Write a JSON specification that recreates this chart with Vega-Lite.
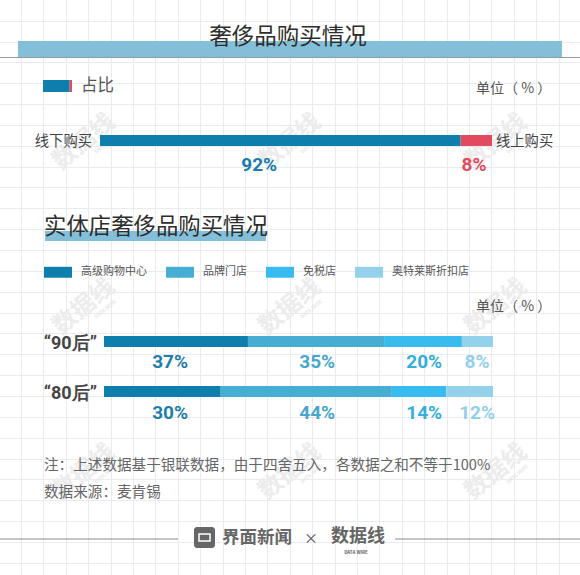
{"$schema":"https://vega.github.io/schema/vega-lite/v6.json","width":580,"height":575,"padding":0,"autosize":{"type":"none"},"background":"#ffffff",
"title":{"text":"奢侈品购买情况","anchor":"middle","offset":-48,"dx":-2,"font":"Noto Sans CJK SC","fontSize":22.5,"fontWeight":"normal","color":"#2d2d2d"},
"config":{"view":{"stroke":null},"font":"Noto Sans CJK SC","text":{"font":"Noto Sans CJK SC"}},
"data":{"values":[{"note":"annotation"}]},
"datasets":{
"channel":[{"group":"全部","channel":"线下购买","rank":1,"share":0.92},{"group":"全部","channel":"线上购买","rank":2,"share":0.08}],
"store":[
{"group":"“90后”","category":"高级购物中心","rank":1,"share":0.37},{"group":"“90后”","category":"品牌门店","rank":2,"share":0.35},{"group":"“90后”","category":"免税店","rank":3,"share":0.20},{"group":"“90后”","category":"奥特莱斯折扣店","rank":4,"share":0.08},
{"group":"“80后”","category":"高级购物中心","rank":1,"share":0.30},{"group":"“80后”","category":"品牌门店","rank":2,"share":0.44},{"group":"“80后”","category":"免税店","rank":3,"share":0.14},{"group":"“80后”","category":"奥特莱斯折扣店","rank":4,"share":0.12}],
"grid":[{"i":0}],
"wm":[{"c":"a","r":"a"},{"c":"b","r":"a"},{"c":"c","r":"a"},{"c":"a","r":"b"},{"c":"b","r":"b"},{"c":"c","r":"b"},{"c":"a","r":"c"},{"c":"b","r":"c"},{"c":"c","r":"c"}]},
"resolve":{"scale":{"x":"independent","y":"independent"},"axis":{"x":"independent","y":"independent"}},
"layer":[
{"data":{"name":"grid"},"mark":{"type":"point","opacity":0},"encoding":{
"x":{"field":"i","type":"quantitative","scale":{"domain":[-1,26],"range":[-1.4,603.4],"nice":false,"zero":false},"axis":{"grid":true,"gridColor":"#e9ebee","gridWidth":1,"labels":false,"ticks":false,"domain":false,"title":null,"values":[0,1,2,3,4,5,6,7,8,9,10,11,12,13,14,15,16,17,18,19,20,21,22,23,24,25]}},
"y":{"field":"i","type":"quantitative","scale":{"domain":[-1,27],"range":[-0.15,583.6],"nice":false,"zero":false},"axis":{"grid":true,"gridColor":"#e9ebee","gridWidth":1,"labels":false,"ticks":false,"domain":false,"title":null,"values":[0,1,2,3,4,5,6,7,8,9,10,11,12,13,14,15,16,17,18,19,20,21,22,23,24,25,26,27]}}}},
{"data":{"name":"wm"},"mark":{"type":"text","text":"数据线","fontSize":24,"fontWeight":"bold","angle":-40,"color":"#ececec"},"encoding":{
"x":{"field":"c","type":"nominal","scale":{"type":"point","padding":0,"domain":["a","b","c"],"range":[84,496]},"axis":null},
"y":{"field":"r","type":"nominal","scale":{"type":"point","padding":0,"domain":["a","b","c"],"range":[142,472]},"axis":null}}},
{"data":{"name":"wm"},"mark":{"type":"text","text":"DATA WIRE","fontSize":5,"fontWeight":"bold","angle":-40,"color":"#e8e8e8","dx":15,"dy":15},"encoding":{
"x":{"field":"c","type":"nominal","scale":{"type":"point","padding":0,"domain":["a","b","c"],"range":[84,496]},"axis":null},
"y":{"field":"r","type":"nominal","scale":{"type":"point","padding":0,"domain":["a","b","c"],"range":[142,472]},"axis":null}}},
{"mark":{"type":"rect","color":"#83bfd8"},"encoding":{"x":{"value":18},"x2":{"value":562},"y":{"value":41},"y2":{"value":57}}},
{"mark":{"type":"rule","color":"#9a9a9a","strokeWidth":1},"encoding":{"x":{"value":0},"x2":{"value":580},"y":{"value":57.5}}},
{"mark":{"type":"rect","color":"#83bfd8"},"encoding":{"x":{"value":45},"x2":{"value":266},"y":{"value":231},"y2":{"value":241}}},
{"mark":{"type":"rule","color":"#8a8a8a","strokeWidth":1},"encoding":{"x":{"value":0},"x2":{"value":178},"y":{"value":539}}},
{"mark":{"type":"rule","color":"#8a8a8a","strokeWidth":1},"encoding":{"x":{"value":395},"x2":{"value":580},"y":{"value":539}}},
{"data":{"name":"channel"},"mark":{"type":"bar","height":12},"encoding":{
"x":{"field":"share","type":"quantitative","stack":"zero","scale":{"domain":[0,1],"range":[43,72],"nice":false},"axis":null},
"y":{"field":"group","type":"nominal","scale":{"type":"point","padding":0,"domain":["全部"],"range":[86,86]},"axis":null},
"order":{"field":"rank"},
"fill":{"field":"channel","type":"nominal","scale":{"domain":["线下购买","线上购买"],"range":["#0e7fad","#e24a5f"]},"legend":null}}},
{"data":{"name":"channel"},"mark":{"type":"bar","height":11},"encoding":{
"x":{"field":"share","type":"quantitative","stack":"zero","scale":{"domain":[0,1],"range":[100,492],"nice":false},"axis":null},
"y":{"field":"group","type":"nominal","scale":{"type":"point","padding":0,"domain":["全部"],"range":[140.5,140.5]},"axis":null},
"order":{"field":"rank"},
"fill":{"field":"channel","type":"nominal","scale":{"domain":["线下购买","线上购买"],"range":["#0e7fad","#e24a5f"]},"legend":null}}},
{"data":{"name":"channel"},"transform":[{"filter":"datum.rank==1"}],"mark":{"type":"text","align":"right","dx":-8,"fontSize":14.3,"color":"#444444"},"encoding":{
"x":{"datum":0,"type":"quantitative","scale":{"domain":[0,1],"range":[100,492],"nice":false},"axis":null},
"y":{"field":"group","type":"nominal","scale":{"type":"point","padding":0,"domain":["全部"],"range":[141.5,141.5]},"axis":null},
"text":{"field":"channel"}}},
{"data":{"name":"channel"},"transform":[{"filter":"datum.rank==2"}],"mark":{"type":"text","align":"left","dx":4,"fontSize":14.3,"color":"#444444"},"encoding":{
"x":{"datum":1,"type":"quantitative","scale":{"domain":[0,1],"range":[100,492],"nice":false},"axis":null},
"y":{"field":"group","type":"nominal","scale":{"type":"point","padding":0,"domain":["全部"],"range":[141.5,141.5]},"axis":null},
"text":{"field":"channel"}}},
{"data":{"name":"channel"},"transform":[{"filter":"datum.rank==1"}],"mark":{"type":"text","font":"Roboto","fontWeight":"bold","fontSize":19,"color":"#1a7dab"},"encoding":{
"x":{"datum":0.406,"type":"quantitative","scale":{"domain":[0,1],"range":[100,492],"nice":false},"axis":null},
"y":{"field":"group","type":"nominal","scale":{"type":"point","padding":0,"domain":["全部"],"range":[165,165]},"axis":null},
"text":{"field":"share","type":"quantitative","format":".0%"}}},
{"data":{"name":"channel"},"transform":[{"filter":"datum.rank==2"}],"mark":{"type":"text","font":"Roboto","fontWeight":"bold","fontSize":19,"color":"#e24a5f"},"encoding":{
"x":{"datum":0.954,"type":"quantitative","scale":{"domain":[0,1],"range":[100,492],"nice":false},"axis":null},
"y":{"field":"group","type":"nominal","scale":{"type":"point","padding":0,"domain":["全部"],"range":[165,165]},"axis":null},
"text":{"field":"share","type":"quantitative","format":".0%"}}},
{"data":{"name":"store"},"mark":{"type":"bar","height":11},"encoding":{
"x":{"field":"share","type":"quantitative","stack":"zero","scale":{"domain":[0,1],"range":[104,493],"nice":false},"axis":null},
"y":{"field":"group","type":"nominal","scale":{"type":"point","padding":0,"domain":["“90后”","“80后”"],"range":[341.5,391.5]},"axis":null},
"order":{"field":"rank"},
"color":{"field":"category","type":"nominal","scale":{"domain":["高级购物中心","品牌门店","免税店","奥特莱斯折扣店"],"range":["#0e7fad","#47aed3","#38bbee","#94d2ec"]},
"legend":{"orient":"none","legendX":44,"legendY":258,"direction":"horizontal","columns":4,"title":null,"symbolType":"M-1,-0.39H1V0.39H-1Z","symbolSize":784,"symbolStrokeWidth":0,"columnPadding":19,"labelOffset":9,"labelFontSize":11,"labelFont":"Noto Sans CJK SC","labelColor":"#555555"}}}},
{"data":{"name":"store"},"transform":[{"filter":"datum.rank==1"}],"mark":{"type":"text","align":"right","dx":-7,"font":"Roboto","fontWeight":"bold","fontSize":18,"color":"#444444"},"encoding":{
"x":{"datum":0,"type":"quantitative","scale":{"domain":[0,1],"range":[104,493],"nice":false},"axis":null},
"y":{"field":"group","type":"nominal","scale":{"type":"point","padding":0,"domain":["“90后”","“80后”"],"range":[344,393.5]},"axis":null},
"text":{"field":"group"}}},
{"data":{"name":"store"},"transform":[{"filter":"datum.rank==1"}],"mark":{"type":"text","font":"Roboto","fontWeight":"bold","fontSize":19},"encoding":{
"x":{"datum":0.17,"type":"quantitative","scale":{"domain":[0,1],"range":[104,493],"nice":false},"axis":null},
"y":{"field":"group","type":"nominal","scale":{"type":"point","padding":0,"domain":["“90后”","“80后”"],"range":[362,413]},"axis":null},
"color":{"value":"#1f7dab"},"text":{"field":"share","type":"quantitative","format":".0%"}}},
{"data":{"name":"store"},"transform":[{"filter":"datum.rank==2"}],"mark":{"type":"text","font":"Roboto","fontWeight":"bold","fontSize":19},"encoding":{
"x":{"datum":0.548,"type":"quantitative","scale":{"domain":[0,1],"range":[104,493],"nice":false},"axis":null},
"y":{"field":"group","type":"nominal","scale":{"type":"point","padding":0,"domain":["“90后”","“80后”"],"range":[362,413]},"axis":null},
"color":{"value":"#47a6cc"},"text":{"field":"share","type":"quantitative","format":".0%"}}},
{"data":{"name":"store"},"transform":[{"filter":"datum.rank==3"}],"mark":{"type":"text","font":"Roboto","fontWeight":"bold","fontSize":19},"encoding":{
"x":{"datum":0.823,"type":"quantitative","scale":{"domain":[0,1],"range":[104,493],"nice":false},"axis":null},
"y":{"field":"group","type":"nominal","scale":{"type":"point","padding":0,"domain":["“90后”","“80后”"],"range":[362,413]},"axis":null},
"color":{"value":"#33aedd"},"text":{"field":"share","type":"quantitative","format":".0%"}}},
{"data":{"name":"store"},"transform":[{"filter":"datum.rank==4"}],"mark":{"type":"text","font":"Roboto","fontWeight":"bold","fontSize":19},"encoding":{
"x":{"datum":0.959,"type":"quantitative","scale":{"domain":[0,1],"range":[104,493],"nice":false},"axis":null},
"y":{"field":"group","type":"nominal","scale":{"type":"point","padding":0,"domain":["“90后”","“80后”"],"range":[362,413]},"axis":null},
"color":{"value":"#94cfe8"},"text":{"field":"share","type":"quantitative","format":".0%"}}},
{"mark":{"type":"text","text":"占比","fontSize":16.5,"align":"left","color":"#555555"},"encoding":{"x":{"value":81},"y":{"value":86}}},
{"mark":{"type":"text","text":"单位（ % ）","fontSize":14,"align":"left","color":"#555555"},"encoding":{"x":{"value":476},"y":{"value":89}}},
{"mark":{"type":"text","text":"实体店奢侈品购买情况","fontSize":22.4,"align":"left","color":"#2d2d2d"},"encoding":{"x":{"value":44},"y":{"value":227}}},
{"mark":{"type":"text","text":"单位（ % ）","fontSize":14,"align":"left","color":"#555555"},"encoding":{"x":{"value":476},"y":{"value":307}}},
{"mark":{"type":"text","text":"注：上述数据基于银联数据，由于四舍五入，各数据之和不等于100%","fontSize":14.6,"align":"left","color":"#666666"},"encoding":{"x":{"value":44},"y":{"value":466}}},
{"mark":{"type":"text","text":"数据来源：麦肯锡","fontSize":14.6,"align":"left","color":"#666666"},"encoding":{"x":{"value":44},"y":{"value":493}}},
{"mark":{"type":"rect","color":"#666666","cornerRadius":3},"encoding":{"x":{"value":194},"x2":{"value":215},"y":{"value":527},"y2":{"value":548}}},
{"mark":{"type":"rect","fill":null,"stroke":"#ffffff","strokeWidth":1.5},"encoding":{"x":{"value":199},"x2":{"value":210},"y":{"value":534},"y2":{"value":541}}},
{"mark":{"type":"text","text":"界面新闻","fontSize":17.5,"fontWeight":"bold","align":"left","color":"#666666"},"encoding":{"x":{"value":222},"y":{"value":538}}},
{"mark":{"type":"text","text":"×","fontSize":14,"color":"#555555"},"encoding":{"x":{"value":311},"y":{"value":539}}},
{"mark":{"type":"text","text":"数据线","fontSize":18,"fontWeight":"bold","color":"#666666"},"encoding":{"x":{"value":358},"y":{"value":537}}},
{"mark":{"type":"text","text":"DATA WIRE","fontSize":4.5,"fontWeight":"bold","color":"#666666"},"encoding":{"x":{"value":356},"y":{"value":553}}}
]}
